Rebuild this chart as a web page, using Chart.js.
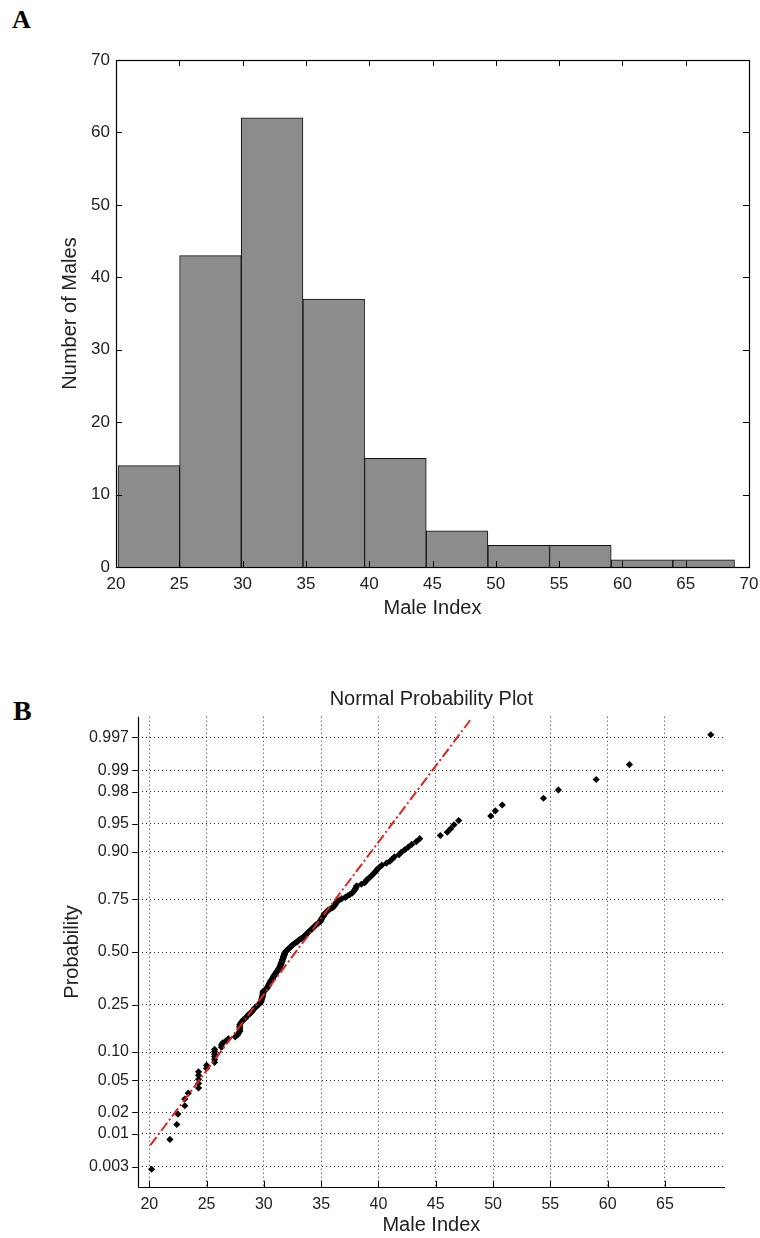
<!DOCTYPE html>
<html><head><meta charset="utf-8">
<script src="https://cdn.jsdelivr.net/npm/chart.js@4.4.1/dist/chart.umd.min.js"></script>
<style>
html,body{margin:0;padding:0;background:#fff;}
body{width:760px;height:1238px;position:relative;overflow:hidden;}
.panel{position:absolute;font-family:"Liberation Serif","Times New Roman",serif;font-weight:bold;color:#000;line-height:1;}
canvas{position:absolute;left:0;}
</style></head><body>
<div class="panel" style="top:7px;left:12px;font-size:26px">A</div>
<div class="panel" style="top:697px;left:13px;font-size:28px">B</div>
<canvas id="histA" width="760" height="640" style="top:0"></canvas>
<canvas id="probB" width="760" height="598" style="top:640px"></canvas>
<script>
// ---------- Panel A : histogram ----------
const binCenters = [22.59, 27.46, 32.33, 37.20, 42.07, 46.94, 51.81, 56.68, 61.55, 66.42];
const maleCounts = [14, 43, 62, 37, 15, 5, 3, 3, 1, 1];
const histXTicks = [20, 25, 30, 35, 40, 45, 50, 55, 60, 65, 70];
const histYTicks = [0, 10, 20, 30, 40, 50, 60, 70];

// ---------- Panel B : normal probability plot ----------
const maleIndexSorted = [
  20.2, 21.8, 22.4, 22.5, 23.1, 23.1, 23.4, 24.3, 24.3, 24.3,
  24.3, 24.3, 25.0, 25.0, 25.7, 25.7, 25.7, 25.7, 25.7, 25.7,
  26.3, 26.3, 26.4, 26.7, 26.9, 27.5, 27.7, 27.8, 27.9, 27.9,
  27.9, 27.9, 27.9, 28.0, 28.1, 28.2, 28.4, 28.5, 28.6, 28.8,
  28.9, 29.0, 29.1, 29.2, 29.35, 29.45, 29.6, 29.7, 29.75, 29.8,
  29.82, 29.85, 29.88, 29.9, 29.92, 29.93, 29.94, 30.1, 30.2, 30.3,
  30.35, 30.4, 30.45, 30.5, 30.55, 30.6, 30.7, 30.75, 30.8, 30.85,
  30.9, 31.0, 31.05, 31.1, 31.2, 31.25, 31.3, 31.4, 31.4, 31.45,
  31.5, 31.5, 31.55, 31.6, 31.6, 31.65, 31.7, 31.7, 31.75, 31.8,
  31.8, 31.85, 31.9, 32.0, 32.1, 32.2, 32.3, 32.4, 32.5, 32.6,
  32.75, 32.9, 33.0, 33.1, 33.25, 33.4, 33.5, 33.6, 33.7, 33.8,
  33.9, 34.0, 34.1, 34.2, 34.3, 34.4, 34.5, 34.6, 34.75, 34.9,
  34.95, 35.0, 35.05, 35.1, 35.2, 35.25, 35.3, 35.4, 35.5, 35.6,
  35.8, 36.0, 36.1, 36.2, 36.25, 36.3, 36.4, 36.6, 36.8, 37.1,
  37.3, 37.5, 37.7, 37.8, 37.9, 38.0, 38.05, 38.1, 38.5, 38.8,
  38.9, 39.0, 39.2, 39.35, 39.5, 39.65, 39.8, 39.9, 40.1, 40.3,
  40.7, 41.0, 41.2, 41.4, 41.8, 42.0, 42.3, 42.6, 42.9, 43.3,
  43.6, 45.4, 46.0, 46.3, 46.6, 47.0, 49.8, 50.2, 50.8, 54.4,
  55.7, 59.0, 61.9, 69.0
];
const cumProbability = [
  0.0027, 0.0082, 0.0136, 0.0190, 0.0245, 0.0299, 0.0353, 0.0408, 0.0462, 0.0516,
  0.0571, 0.0625, 0.0679, 0.0734, 0.0788, 0.0842, 0.0897, 0.0951, 0.1005, 0.1060,
  0.1114, 0.1168, 0.1223, 0.1277, 0.1332, 0.1386, 0.1440, 0.1495, 0.1549, 0.1603,
  0.1658, 0.1712, 0.1766, 0.1821, 0.1875, 0.1929, 0.1984, 0.2038, 0.2092, 0.2147,
  0.2201, 0.2255, 0.2310, 0.2364, 0.2418, 0.2473, 0.2527, 0.2582, 0.2636, 0.2690,
  0.2745, 0.2799, 0.2853, 0.2908, 0.2962, 0.3016, 0.3071, 0.3125, 0.3179, 0.3234,
  0.3288, 0.3342, 0.3397, 0.3451, 0.3505, 0.3560, 0.3614, 0.3668, 0.3723, 0.3777,
  0.3832, 0.3886, 0.3940, 0.3995, 0.4049, 0.4103, 0.4158, 0.4212, 0.4266, 0.4321,
  0.4375, 0.4429, 0.4484, 0.4538, 0.4592, 0.4647, 0.4701, 0.4755, 0.4810, 0.4864,
  0.4918, 0.4973, 0.5027, 0.5082, 0.5136, 0.5190, 0.5245, 0.5299, 0.5353, 0.5408,
  0.5462, 0.5516, 0.5571, 0.5625, 0.5679, 0.5734, 0.5788, 0.5842, 0.5897, 0.5951,
  0.6005, 0.6060, 0.6114, 0.6168, 0.6223, 0.6277, 0.6332, 0.6386, 0.6440, 0.6495,
  0.6549, 0.6603, 0.6658, 0.6712, 0.6766, 0.6821, 0.6875, 0.6929, 0.6984, 0.7038,
  0.7092, 0.7147, 0.7201, 0.7255, 0.7310, 0.7364, 0.7418, 0.7473, 0.7527, 0.7582,
  0.7636, 0.7690, 0.7745, 0.7799, 0.7853, 0.7908, 0.7962, 0.8016, 0.8071, 0.8125,
  0.8179, 0.8234, 0.8288, 0.8342, 0.8397, 0.8451, 0.8505, 0.8560, 0.8614, 0.8668,
  0.8723, 0.8777, 0.8832, 0.8886, 0.8940, 0.8995, 0.9049, 0.9103, 0.9158, 0.9212,
  0.9266, 0.9321, 0.9375, 0.9429, 0.9484, 0.9538, 0.9592, 0.9647, 0.9701, 0.9755,
  0.9810, 0.9864, 0.9918, 0.9973
];
const refLineX = [20.1, 48.0];
const refLineP = [0.0067, 0.9985];
const probXTicks = [20, 25, 30, 35, 40, 45, 50, 55, 60, 65];
const probTickValues = [0.003, 0.01, 0.02, 0.05, 0.10, 0.25, 0.50, 0.75, 0.90, 0.95, 0.98, 0.99, 0.997];
const probTickLabels = ['0.003', '0.01', '0.02', '0.05', '0.10', '0.25', '0.50', '0.75', '0.90', '0.95', '0.98', '0.99', '0.997'];

// inverse standard normal CDF (axis transform for the probability scale)
function probit(p) {
  const a = [-3.969683028665376e+01, 2.209460984245205e+02, -2.759285104469687e+02, 1.383577518672690e+02, -3.066479806614716e+01, 2.506628277459239e+00];
  const b = [-5.447609879822406e+01, 1.615858368580409e+02, -1.556989798598866e+02, 6.680131188771972e+01, -1.328068155288572e+01];
  const c = [-7.784894002430293e-03, -3.223964580411365e-01, -2.400758277161838e+00, -2.549732539343734e+00, 4.374664141464968e+00, 2.938163982698783e+00];
  const d = [7.784695709041462e-03, 3.224671290700398e-01, 2.445134137142996e+00, 3.754408661907416e+00];
  const pl = 0.02425, ph = 1 - pl;
  let q, r;
  if (p < pl) {
    q = Math.sqrt(-2 * Math.log(p));
    return (((((c[0]*q+c[1])*q+c[2])*q+c[3])*q+c[4])*q+c[5]) / ((((d[0]*q+d[1])*q+d[2])*q+d[3])*q+1);
  }
  if (p <= ph) {
    q = p - 0.5; r = q * q;
    return (((((a[0]*r+a[1])*r+a[2])*r+a[3])*r+a[4])*r+a[5])*q / (((((b[0]*r+b[1])*r+b[2])*r+b[3])*r+b[4])*r+1);
  }
  q = Math.sqrt(-2 * Math.log(1 - p));
  return -(((((c[0]*q+c[1])*q+c[2])*q+c[3])*q+c[4])*q+c[5]) / ((((d[0]*q+d[1])*q+d[2])*q+d[3])*q+1);
}

Chart.defaults.font.family = '"Liberation Sans", Arial, Helvetica, sans-serif';
Chart.defaults.color = '#222';

function seg(ctx, x1, y1, x2, y2) { ctx.beginPath(); ctx.moveTo(x1, y1); ctx.lineTo(x2, y2); ctx.stroke(); }
const al = v => Math.round(v) + 0.5;

const boxTicksA = {
  id: 'boxTicksA',
  afterDatasetsDraw(chart) {
    const {ctx, chartArea: a, scales: {x, y}} = chart;
    ctx.save();
    ctx.strokeStyle = '#000';
    ctx.lineWidth = 1.2;
    ctx.strokeRect(al(a.left), al(a.top), Math.round(a.right) - Math.round(a.left), Math.round(a.bottom) - Math.round(a.top));
    ctx.lineWidth = 1;
    x.ticks.forEach(t => {
      const px = al(x.getPixelForValue(t.value));
      seg(ctx, px, a.bottom, px, a.bottom - 6);
      seg(ctx, px, a.top, px, a.top + 6);
    });
    y.ticks.forEach(t => {
      const py = al(y.getPixelForValue(t.value));
      seg(ctx, a.left, py, a.left + 6, py);
      seg(ctx, a.right, py, a.right - 6, py);
    });
    ctx.restore();
  }
};

new Chart(document.getElementById('histA'), {
  type: 'bar',
  data: {
    datasets: [{
      data: binCenters.map((c, i) => ({x: c, y: maleCounts[i]})),
      backgroundColor: '#8c8c8c',
      borderColor: '#111',
      borderWidth: 1,
      barPercentage: 1,
      categoryPercentage: 1
    }]
  },
  options: {
    responsive: false, animation: false, devicePixelRatio: 1,
    layout: {padding: {top: 60, right: 11, bottom: 0, left: 0}},
    plugins: {legend: {display: false}, tooltip: {enabled: false}},
    scales: {
      x: {
        type: 'linear', min: 20, max: 70, offset: false,
        afterBuildTicks: s => { s.ticks = histXTicks.map(v => ({value: v})); },
        afterFit: s => { s.height = 73; s.paddingLeft = 0; s.paddingRight = 0; },
        grid: {display: false, drawTicks: false, offset: false},
        border: {display: false},
        ticks: {font: {size: 17}, padding: 7, maxRotation: 0, autoSkip: false},
        title: {display: true, text: 'Male Index', font: {size: 20}, padding: {top: 0, bottom: 20}}
      },
      y: {
        type: 'linear', min: 0, max: 70,
        afterBuildTicks: s => { s.ticks = histYTicks.map(v => ({value: v})); },
        afterFit: s => { s.width = 116; s.paddingTop = 0; s.paddingBottom = 0; },
        grid: {display: false, drawTicks: false},
        border: {display: false},
        ticks: {font: {size: 17}, padding: 6, autoSkip: false},
        title: {display: true, text: 'Number of Males', font: {size: 20}, padding: {top: 58, bottom: 0}}
      }
    }
  },
  plugins: [boxTicksA]
});

const axesB = {
  id: 'axesB',
  afterDatasetsDraw(chart) {
    const {ctx, chartArea: a, scales: {x, y}} = chart;
    ctx.save();
    ctx.strokeStyle = '#000';
    ctx.lineWidth = 1.2;
    seg(ctx, al(a.left), a.top, al(a.left), al(a.bottom));
    seg(ctx, al(a.left), al(a.bottom), a.right, al(a.bottom));
    ctx.lineWidth = 1;
    y.ticks.forEach(t => {
      const py = al(y.getPixelForValue(t.value));
      seg(ctx, a.left - 5.5, py, a.left, py);
    });
    x.ticks.forEach(t => {
      const px = al(x.getPixelForValue(t.value));
      seg(ctx, px, a.bottom, px, a.bottom - 6.5);
    });
    ctx.restore();
  }
};

new Chart(document.getElementById('probB'), {
  type: 'scatter',
  data: {
    datasets: [
      {
        type: 'line',
        data: refLineX.map((v, i) => ({x: v, y: probit(refLineP[i])})),
        borderColor: '#e0231d', borderWidth: 2, borderDash: [10, 3, 2, 3],
        pointRadius: 0, fill: false, order: 0
      },
      {
        data: maleIndexSorted.map((v, i) => ({x: v, y: probit(cumProbability[i])})),
        pointStyle: 'rectRot', pointRadius: 3.6, backgroundColor: '#000', borderColor: '#000', borderWidth: 0,
        order: 1
      }
    ]
  },
  options: {
    responsive: false, animation: false, devicePixelRatio: 1,
    layout: {padding: {top: 0, right: 35, bottom: 0, left: 0}},
    plugins: {
      legend: {display: false}, tooltip: {enabled: false},
      title: {display: true, fullSize: false, text: 'Normal Probability Plot', font: {size: 20, weight: 'normal'}, color: '#222', padding: {top: 47, bottom: 5.7}}
    },
    scales: {
      x: {
        type: 'linear', min: 18.99, max: 70.24,
        afterBuildTicks: s => { s.ticks = probXTicks.map(v => ({value: v})); },
        afterFit: s => { s.height = 50.7; s.paddingLeft = 0; s.paddingRight = 0; },
        grid: {color: 'rgba(0,0,0,0.85)', lineWidth: 1, drawTicks: false},
        border: {display: false, dash: [1, 3]},
        ticks: {font: {size: 16}, padding: 8, maxRotation: 0, autoSkip: false},
        title: {display: true, text: 'Male Index', font: {size: 20}, padding: {top: 0, bottom: 1}}
      },
      y: {
        type: 'linear', min: -3.013, max: 3.013,
        afterBuildTicks: s => { s.ticks = probTickValues.map(p => ({value: probit(p)})); },
        afterFit: s => { s.width = 137.7; s.paddingTop = 0; s.paddingBottom = 0; },
        grid: {color: 'rgba(0,0,0,0.85)', lineWidth: 1, drawTicks: false},
        border: {display: false, dash: [1, 3]},
        ticks: {font: {size: 16}, padding: 8.7, autoSkip: false, callback: (v, i) => probTickLabels[i]},
        title: {display: true, text: 'Probability', font: {size: 20}, padding: {top: 60, bottom: 0}}
      }
    }
  },
  plugins: [axesB]
});
</script></body></html>
